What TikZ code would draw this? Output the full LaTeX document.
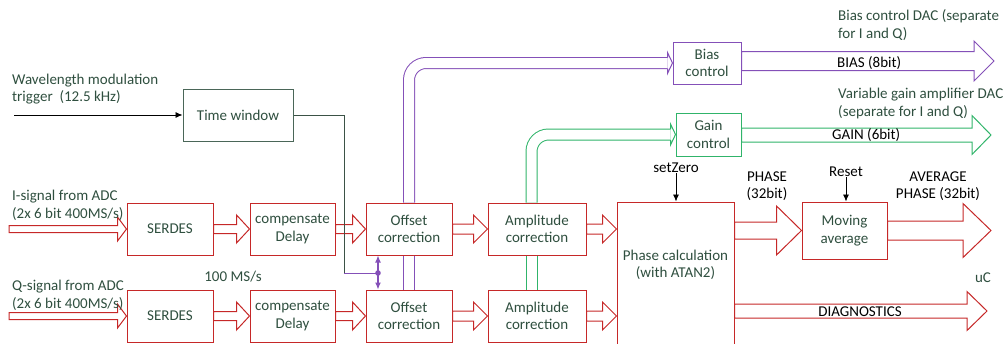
\documentclass[tikz,border=0pt]{standalone}
\usepackage{fontspec}
\setmainfont{Carlito}
\usepackage{xcolor}
\usepackage{tikz}
\usetikzlibrary{arrows.meta,calc}
\definecolor{sigRed}{HTML}{C62828}
\definecolor{biasPurple}{HTML}{8450B8}
\definecolor{gainGreen}{HTML}{30B46A}
\definecolor{winGray}{HTML}{4A6658}
\definecolor{txtGreen}{HTML}{2F4F3F}
% hollow block arrow: [style]{from}{to}{shaft half}{head half}{head length}
\newcommand{\fatarrow}[6][]{%
  \draw[fatarr,#1] let \p1=#2, \p2=#3 in
    (\x1,\y1+#4pt) -- (\x2-#6pt,\y1+#4pt) -- (\x2-#6pt,\y1+#5pt) -- (\x2,\y1)
    -- (\x2-#6pt,\y1-#5pt) -- (\x2-#6pt,\y1-#4pt) -- (\x1,\y1-#4pt) -- cycle;}

\begin{document}
\begin{tikzpicture}[
    x=1pt,y=-1pt,
    every node/.style={font=\fontsize{15}{17.5}\selectfont},
    redbox/.style={rectangle,draw=sigRed,fill=white,line width=1pt,
                   text=txtGreen,align=center,inner sep=2pt},
    winbox/.style={redbox,draw=winGray},
    biasbox/.style={redbox,draw=biasPurple},
    gainbox/.style={redbox,draw=gainGreen},
    lbl/.style={text=txtGreen,align=left,inner sep=0pt},
    blk/.style={text=black,align=center,inner sep=0pt},
    fatarr/.style={draw=sigRed,line width=1pt,fill=white,line join=miter},
    dblP/.style={draw=biasPurple,double=white,double distance=10pt,line width=1pt},
    dblG/.style={draw=gainGreen,double=white,double distance=10pt,line width=1pt},
    sig/.style={-{Latex[length=7pt,width=6pt]},line width=0.8pt}
  ]
  \useasboundingbox (0,0) rectangle (1004,343);

  %% blocks
  \node[winbox,minimum width=110,minimum height=52] (tw) at (238,115) {Time window};
  \node[redbox,minimum width=86,minimum height=52] (serI) at (170,229) {SERDES};
  \node[redbox,minimum width=86,minimum height=52] (serQ) at (170,316) {SERDES};
  \node[redbox,minimum width=85,minimum height=52] (delI) at (292.5,229) {compensate\\Delay};
  \node[redbox,minimum width=85,minimum height=52] (delQ) at (292.5,316) {compensate\\Delay};
  \node[redbox,minimum width=86,minimum height=52] (offI) at (409,229) {Offset\\correction};
  \node[redbox,minimum width=86,minimum height=52] (offQ) at (409,316) {Offset\\correction};
  \node[redbox,minimum width=98,minimum height=52] (ampI) at (537,229) {Amplitude\\correction};
  \node[redbox,minimum width=98,minimum height=52] (ampQ) at (537,316) {Amplitude\\correction};
  \node[redbox,minimum width=117,minimum height=150,
        label={[lbl,align=center,yshift=12pt]center:Phase calculation\\(with ATAN2)}]
        (phase) at (675.5,277) {};
  \node[redbox,minimum width=85,minimum height=57] (mavg) at (844.5,230.5) {Moving\\average};
  \node[biasbox,minimum width=68,minimum height=42] (bias) at (707,63) {Bias\\control};
  \node[gainbox,minimum width=65,minimum height=43] (gain) at (708.5,134.5) {Gain\\control};

  %% free ends
  \coordinate (inI) at (9,229);
  \coordinate (inQ) at (9,316);
  \coordinate (trig) at (14,115);
  \coordinate (avgEnd) at (991,230.5);
  \coordinate (diagEnd) at (987,311);
  \coordinate (biasEnd) at (994,61);
  \coordinate (gainEnd) at (991,135);
  \coordinate (bend) at (344,273);
  \coordinate (sel) at (378,273);

  %% data path
  \fatarrow{(inI)}{(serI.west)}{3.5}{12}{9}
  \fatarrow{(inQ)}{(serQ.west)}{3.5}{12}{9}
  \foreach \a/\b in {serI/delI, serQ/delQ, delI/offI, delQ/offQ}
    {\fatarrow{(\a.east)}{(\b.west)}{4.5}{14}{13}}
  \foreach \a/\b in {offI/ampI, offQ/ampQ}
    {\fatarrow{(\a.east)}{(\b.west)}{5}{14}{14}}
  \fatarrow{(ampI.east)}{(ampI.east -| phase.west)}{5}{14}{14}
  \fatarrow{(ampQ.east)}{(ampQ.east -| phase.west)}{5}{14}{14}
  \fatarrow{(phase.east |- mavg.west)}{(mavg.west)}{8.5}{24.5}{25}
  \fatarrow{(mavg.east)}{(avgEnd)}{9.5}{27}{28}
  \fatarrow{(phase.east |- diagEnd)}{(diagEnd)}{7}{19.5}{20}
  \fatarrow[draw=biasPurple]{(bias.east |- biasEnd)}{(biasEnd)}{9.5}{20}{20}
  \fatarrow[draw=gainGreen]{(gain.east |- gainEnd)}{(gainEnd)}{7}{19.5}{19}

  %% feedback to bias / gain
  \draw[dblP,rounded corners=17pt,shorten >=5pt] (offI.north) |- (bias.west);
  \draw[dblP] (offI.south) -- (offQ.north);
  \draw[biasPurple,line width=1pt] ([shift={(-5pt,5.5pt)}]bias.west) -- ++(0,-5)
    -- (bias.west) -- ([shift={(-5pt,-10.5pt)}]bias.west) -- ++(0,-5);
  \draw[dblG,rounded corners=17pt,shorten >=5pt] ([xshift=-5.5pt]ampI.north) |- (gain.west);
  \draw[dblG] ([xshift=-5.5pt]ampI.south) -- ([xshift=-5.5pt]ampQ.north);
  \draw[gainGreen,line width=1pt] ([shift={(-5pt,5.5pt)}]gain.west) -- ++(0,-5)
    -- (gain.west) -- ([shift={(-5pt,-10.5pt)}]gain.west) -- ++(0,-5);

  %% trigger and time window
  \draw[sig] (trig) -- (tw.west);
  \draw[winGray!80!black,line width=1pt] (tw.east) -| (bend);
  \draw[biasPurple,line width=1pt] (bend) -- (sel);
  \fill[biasPurple] (sel) circle (2.8);
  \draw[sig,biasPurple,line width=1.2pt] (sel) -- (sel |- offI.south);
  \draw[sig,biasPurple,line width=1.2pt] (sel) -- (sel |- offQ.north);

  %% labels
  \node[lbl,anchor=west] (trigTxt) at (12,89) {Wavelength modulation\\trigger~ (12.5 kHz)};
  \node[lbl,anchor=west] (iTxt) at (12,205.5) {I-signal from ADC\\(2x 6 bit 400MS/s)};
  \node[lbl,anchor=west] (qTxt) at (12,295.5) {Q-signal from ADC\\(2x 6 bit 400MS/s)};
  \node[lbl] (rateTxt) at (233,277) {100 MS/s};
  \node[blk] (setZero) at (676,168) {setZero};
  \draw[sig] (setZero.south) -- (setZero.south |- phase.north);
  \node[blk] (reset) at (846,172) {Reset};
  \draw[sig] (reset.south) -- (reset.south |- mavg.north);
  \node[blk] (phaseTxt) at (767,186) {PHASE\\(32bit)};
  \node[blk] (avgTxt) at (938,186) {AVERAGE\\PHASE (32bit)};
  \node[blk] (diagTxt) at (860,312) {DIAGNOSTICS};
  \node[lbl] (ucTxt) at (983,278) {uC};
  \node[blk,anchor=west] (biasTxt) at (837,63) {BIAS (8bit)};
  \node[blk,anchor=west] (gainTxt) at (832,135) {GAIN (6bit)};
  \node[lbl,anchor=west] (biasDac) at (838,25) {Bias control DAC (separate\\for I and Q)};
  \node[lbl,anchor=west] (gainDac) at (838,103.5) {Variable gain amplifier DAC\\(separate for I and Q)};
\end{tikzpicture}
\end{document}
